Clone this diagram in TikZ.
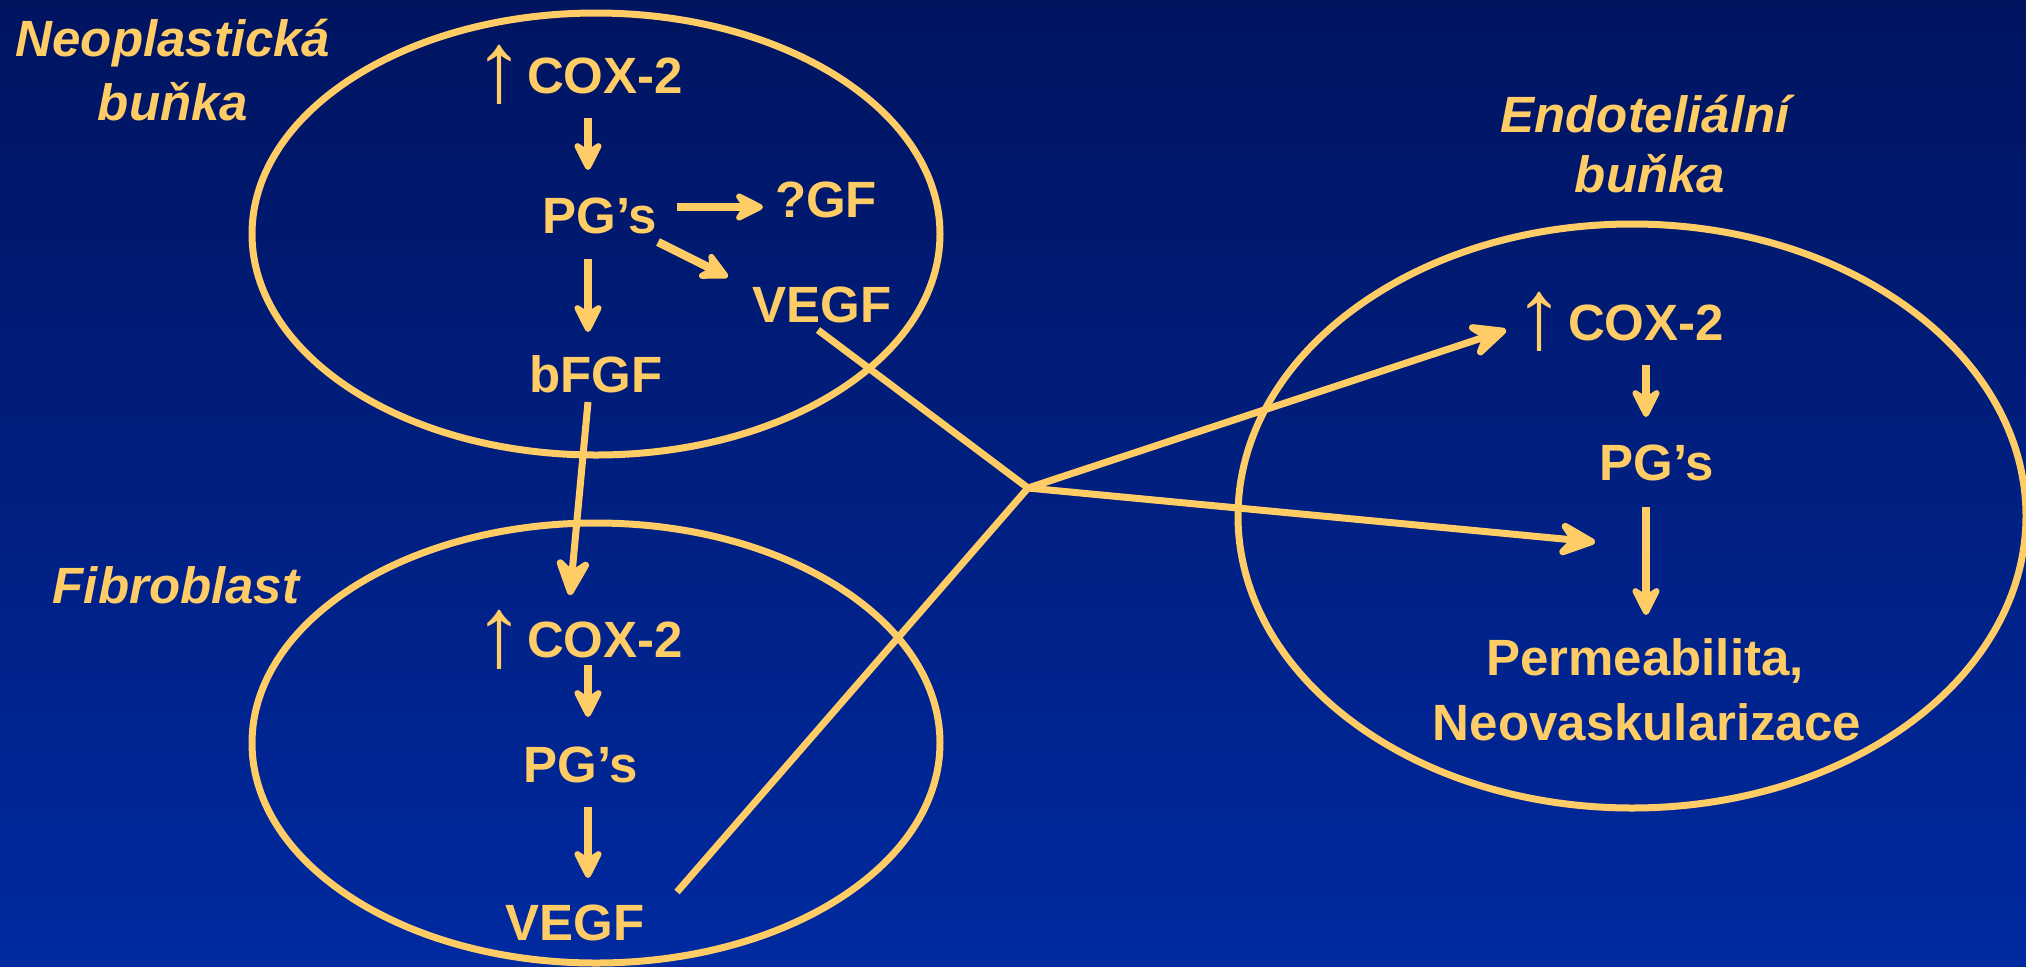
\documentclass[tikz,border=0pt]{standalone}
\usepackage{fontspec}
\setmainfont{Liberation Sans}
\usetikzlibrary{arrows.meta}
\definecolor{ink}{RGB}{255,204,102}
\definecolor{bgtop}{RGB}{0,20,96}
\definecolor{bgbot}{RGB}{0,42,160}
\begin{document}
\begin{tikzpicture}[x=0.5pt,y=-0.5pt,
  lbl/.style={text=ink, font=\fontsize{25.5}{30}\selectfont\bfseries, inner sep=0pt, anchor=base},
  ilbl/.style={lbl, font=\fontsize{25.5}{30}\selectfont\bfseries\itshape},
  uparr/.style={text=ink, font=\fontsize{50}{60}\selectfont, inner sep=0pt, anchor=center},
  cell/.style={draw=ink, line width=3.5pt},
  flow/.style={draw=ink, line width=4.2pt, -{Stealth[length=18pt,width=18pt,inset=6pt,round]}},
  link/.style={draw=ink, line width=3.5pt},
  reach/.style={link, -{Stealth[length=24pt,width=22pt,inset=9pt,round]}}
]
\fill[top color=bgtop, bottom color=bgbot] (0,0) rectangle (2026,966);
\useasboundingbox (0,0) rectangle (2026,966);

% cells
\draw[cell] (596,234) ellipse [x radius=344, y radius=221];
\draw[cell] (596,743) ellipse [x radius=344, y radius=220];
\draw[cell] (1632,516) ellipse [x radius=394, y radius=292];

% cell labels
\node[ilbl] (neoA) at (173,56) {Neoplastická};
\node[ilbl] (neoB) at (173,120) {buňka};
\node[ilbl] (fib) at (176,603) {Fibroblast};
\node[ilbl] (endA) at (1645,132) {Endoteliální};
\node[ilbl] (endB) at (1650,192) {buňka};

% neoplastic cell
\node[uparr] (up1) at (499,75) {↑};
\node[lbl] (cox1) at (605,93) {COX-2};
\node[lbl] (pg1) at (600,233) {PG’s};
\node[lbl] (gf1) at (826,217) {?GF};
\node[lbl] (vegf1) at (822,322) {VEGF};
\node[lbl] (bfgf1) at (596,392) {bFGF};

% fibroblast
\node[uparr] (up2) at (499,640) {↑};
\node[lbl] (cox2) at (605,657) {COX-2};
\node[lbl] (pg2) at (581,782) {PG’s};
\node[lbl] (vegf2) at (575,940) {VEGF};

% endothelial cell
\node[uparr] (up3) at (1539,322) {↑};
\node[lbl] (cox3) at (1646,340) {COX-2};
\node[lbl] (pg3) at (1657,480) {PG’s};
\node[lbl] (perm) at (1645,675) {Permeabilita,};
\node[lbl] (neov) at (1647,740) {Neovaskularizace};

% arrow end points
\coordinate (a1s) at (588,118); \coordinate (a1e) at (588,170);
\coordinate (a2s) at (677,207); \coordinate (a2e) at (763,207);
\coordinate (a3s) at (658,242); \coordinate (a3e) at (728,277);
\coordinate (a4s) at (588,259); \coordinate (a4e) at (588,332);
\coordinate (a5s) at (588,402); \coordinate (a5e) at (570,595);
\coordinate (b1s) at (588,665); \coordinate (b1e) at (588,717);
\coordinate (b2s) at (588,807); \coordinate (b2e) at (588,878);
\coordinate (c1s) at (1646,365); \coordinate (c1e) at (1646,417);
\coordinate (c2s) at (1646,507); \coordinate (c2e) at (1646,615);
\coordinate (v1s) at (818,330);
\coordinate (v2s) at (677,892);
\coordinate (J) at (1028,488);
\coordinate (t1) at (1506,330);
\coordinate (t2) at (1595,542);

\draw[flow] (a1s) -- (a1e);
\draw[flow] (a2s) -- (a2e);
\draw[flow] (a3s) -- (a3e);
\draw[flow] (a4s) -- (a4e);
\draw[reach] (a5s) -- (a5e);
\draw[flow] (b1s) -- (b1e);
\draw[flow] (b2s) -- (b2e);
\draw[flow] (c1s) -- (c1e);
\draw[flow] (c2s) -- (c2e);

\draw[link] (v1s) -- (J);
\draw[link] (v2s) -- (J);
\draw[reach] (J) -- (t1);
\draw[reach] (J) -- (t2);
\end{tikzpicture}
\end{document}
